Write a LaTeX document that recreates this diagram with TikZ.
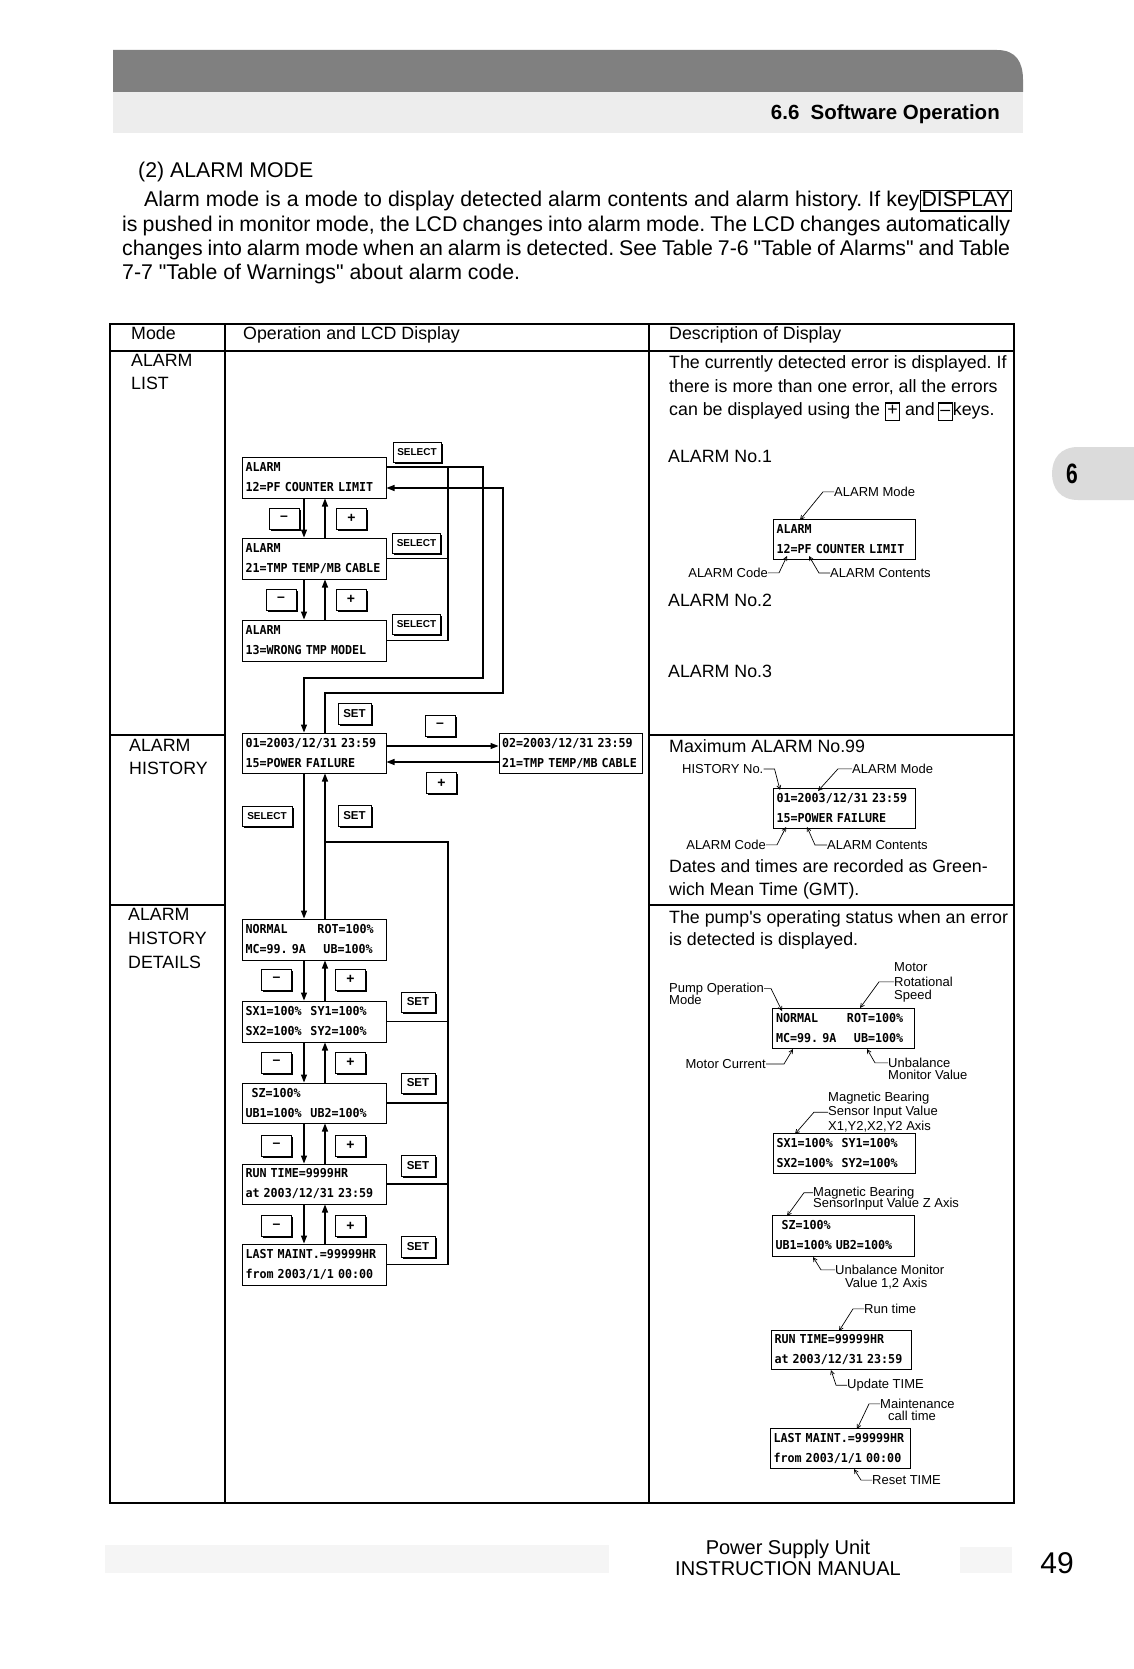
\documentclass[tikz,border=0pt]{standalone}
\usepackage{fontspec}
\setmainfont[Ligatures=TeXOff]{Liberation Sans}
\newfontfamily\lcdfont[FakeStretch=0.95]{DejaVu Sans Mono}
\newfontfamily\narrowsans[FakeStretch=0.75]{Liberation Sans}
\usetikzlibrary{arrows.meta,shadows}
\frenchspacing
\newcommand\partxt{\fontsize{21.3}{24.5}\selectfont}
\newcommand\tabtxt{\fontsize{17.8}{23.5}\selectfont}
\newcommand\smtxt{\fontsize{13}{13}\selectfont}
\newcommand\lcdtxt{\lcdfont\bfseries\fontsize{12.3}{20}\selectfont}
\newcommand\kbox[1]{{\setlength{\fboxsep}{1pt}\setlength{\fboxrule}{1.1pt}\fbox{\rule[-3pt]{0pt}{14pt}\makebox[11pt]{#1}}}}
\newcommand\dispbox[1]{{\setlength{\fboxsep}{1pt}\setlength{\fboxrule}{1.1pt}\fbox{\rule[-2.5pt]{0pt}{16pt}#1}}}
\begin{document}
\begin{tikzpicture}[x=1pt,y=-1pt,
  tbl/.style={line width=2.2pt},
  lcd/.style={draw,line width=1pt,fill=white,minimum width=144pt,minimum height=41pt,inner sep=0pt,text width=137pt,align=left,font=\lcdtxt},
  rlcd/.style={lcd,minimum width=142pt,minimum height=40pt,text width=135pt},
  key/.style={draw,line width=1pt,fill=white,inner sep=0pt,general shadow={fill=black,shadow xshift=1.5pt,shadow yshift=-1.5pt}},
  selk/.style={key,minimum width=48pt,minimum height=20pt,font=\bfseries\fontsize{10}{10}\selectfont},
  setk/.style={key,minimum width=33pt,minimum height=21pt,font=\bfseries\fontsize{11.5}{11.5}\selectfont},
  pmk/.style={key,minimum width=30pt,minimum height=21pt,font=\bfseries\fontsize{14}{14}\selectfont},
  conn/.style={line width=1.2pt},
  arr/.style={conn,-{Triangle[length=8pt,width=6pt]}},
  lead/.style={line width=0.7pt,-{Straight Barb[length=4pt,width=4pt]}},
  txt/.style={inner sep=0pt,anchor=base west,font=\tabtxt},
  ptx/.style={inner sep=0pt,anchor=base west,font=\partxt},
  sm/.style={inner sep=0pt,anchor=base west,font=\smtxt},
  sme/.style={sm,anchor=base east},
]
\useasboundingbox (0,0) rectangle (1134,1669);

% ---------- page header ----------
\fill[black!50] (113,92) -- (113,50) -- (997,50) .. controls (1016,50) and (1023,62) .. (1023,80) -- (1023,92) -- cycle;
\fill[black!7] (113,92) rectangle (1023,133);
\node[inner sep=0pt,anchor=base east,font=\bfseries\fontsize{20.5}{20.5}\selectfont] (sec) at (1000,120) {6.6\hspace{0.55em}Software Operation};

% side tab
\fill[black!14] (1134,447) -- (1078,447) .. controls (1060,447) and (1052,459) .. (1052,473.5) .. controls (1052,488) and (1060,500) .. (1078,500) -- (1134,500) -- cycle;
\node[inner sep=0pt,font=\narrowsans\bfseries\fontsize{28}{28}\selectfont] (tab6) at (1072,474) {6};

% ---------- paragraph ----------
\node[ptx] (p0) at (138,177.5) {(2) ALARM MODE};
\node[ptx] (p1) at (144,207) {\makebox[868pt][s]{Alarm mode is a mode to display detected alarm contents and alarm history. If key\dispbox{DISPLAY}}};
\node[ptx] (p2) at (122,232) {\makebox[888pt][s]{is pushed in monitor mode, the LCD changes into alarm mode. The LCD changes automatically}};
\node[ptx] (p3) at (122,256) {\makebox[888pt][s]{changes into alarm mode when an alarm is detected. See Table 7-6 "Table of Alarms" and Table}};
\node[ptx] (p4) at (122,280) {7-7 "Table of Warnings" about alarm code.};

% ---------- table frame ----------
\draw[tbl] (110,324) rectangle (1014,1503);
\draw[tbl] (110,351) -- (1014,351);
\draw[tbl] (225,324) -- (225,1503);
\draw[tbl] (649,324) -- (649,1503);
\draw[tbl] (110,735) -- (225,735);
\draw[tbl] (649,735) -- (1014,735);
\draw[tbl] (110,905) -- (225,905);
\draw[tbl] (649,905) -- (1014,905);

% headers and mode names
\node[txt] (hm) at (131,339.5) {Mode};
\node[txt] (ho) at (243,339.5) {Operation and LCD Display};
\node[txt] (hd) at (669,339.5) {Description of Display};
\node[txt] (m1a) at (131,366.5) {ALARM};
\node[txt] (m1b) at (131,389.5) {LIST};
\node[txt] (m2a) at (129,751.5) {ALARM};
\node[txt] (m2b) at (129,774.5) {HISTORY};
\node[txt] (m3a) at (128,920.5) {ALARM};
\node[txt] (m3b) at (128,944.5) {HISTORY};
\node[txt] (m3c) at (128,968.5) {DETAILS};

% descriptions
\node[txt] (ds1) at (669,368.5) {The currently detected error is displayed. If};
\node[txt] (ds2) at (669,392) {there is more than one error, all the errors};
\node[txt] (ds3) at (669,415.5) {can be displayed using the \kbox{+} and\,\kbox{\textendash}keys.};
\node[txt] (ds4) at (668,462.5) {ALARM No.1};
\node[txt] (ds5) at (668,606.5) {ALARM No.2};
\node[txt] (ds6) at (668,677.5) {ALARM No.3};
\node[txt] (ds7) at (669,752.5) {Maximum ALARM No.99};
\node[txt] (ds8) at (669,872.5) {Dates and times are recorded as Green-};
\node[txt] (ds9) at (669,895.5) {wich Mean Time (GMT).};
\node[txt] (ds10) at (669,923.5) {The pump's operating status when an error};
\node[txt] (ds11) at (669,945.5) {is detected is displayed.};

% ---------- operation column: LCD displays ----------
\coordinate (xd) at (304,0);
\coordinate (xu) at (325,0);
\node[lcd] (l1) at (314,477.5) {ALARM\\12=PF COUNTER LIMIT};
\node[lcd] (l2) at (314,558.5) {ALARM\\21=TMP TEMP/MB CABLE};
\node[lcd] (l3) at (314,640.5) {ALARM\\13=WRONG TMP MODEL};
\node[lcd,minimum height=40pt] (h1) at (314,753) {01=2003/12/31 23:59\\15=POWER FAILURE};
\node[lcd,minimum width=143pt,minimum height=40pt] (h2) at (570.5,753) {02=2003/12/31 23:59\\21=TMP TEMP/MB CABLE};
\node[lcd] (d1) at (314,939.5) {\makebox[72pt][l]{NORMAL}ROT=100\%\\\makebox[78pt][l]{MC=99. 9A}UB=100\%};
\node[lcd] (d2) at (314,1021.5) {\makebox[65pt][l]{SX1=100\%}SY1=100\%\\\makebox[65pt][l]{SX2=100\%}SY2=100\%};
\node[lcd,minimum height=40pt] (d3) at (314,1103) {\hspace*{6pt}SZ=100\%\\\makebox[65pt][l]{UB1=100\%}UB2=100\%};
\node[lcd,minimum height=40pt] (d4) at (314,1184) {RUN TIME=9999HR\\at 2003/12/31 23:59};
\node[lcd] (d5) at (314,1264.5) {LAST MAINT.=99999HR\\from 2003/1/1 00:00};

% up / down arrows
\foreach \a/\b in {l1/l2,l2/l3,h1/d1,d1/d2,d2/d3,d3/d4,d4/d5} {
  \draw[arr] (\a.south -| xd) -- (\b.north -| xd);
  \draw[arr] (\b.north -| xu) -- (\a.south -| xu);
}

% - / + keys
\node[pmk] (km1) at (284,518.5) {\textendash};
\node[pmk] (kp1) at (351.5,518.5) {+};
\node[pmk] (km2) at (281,599.5) {\textendash};
\node[pmk] (kp2) at (351,599.5) {+};
\node[pmk] (km3) at (440,725.5) {\textendash};
\node[pmk] (kp3) at (441.5,783) {+};
\node[pmk] (km4) at (276.5,979.5) {\textendash};
\node[pmk] (kp4) at (350.5,979.5) {+};
\node[pmk] (km5) at (276.5,1062.5) {\textendash};
\node[pmk] (kp5) at (350.5,1062.5) {+};
\node[pmk] (km6) at (276.5,1145.5) {\textendash};
\node[pmk] (kp6) at (350.5,1145.5) {+};
\node[pmk] (km7) at (276.5,1226) {\textendash};
\node[pmk] (kp7) at (350.5,1226) {+};

% SELECT / SET keys
\node[selk] (s1) at (417,452) {SELECT};
\node[selk] (s2) at (416.5,543) {SELECT};
\node[selk] (s3) at (416.5,624.5) {SELECT};
\node[selk,minimum width=50pt] (s4) at (267,816) {SELECT};
\node[setk] (t1) at (354.5,713.5) {SET};
\node[setk] (t2) at (354.5,816) {SET};
\node[setk,minimum width=34pt,minimum height=20pt] (t3) at (418,1002) {SET};
\node[setk,minimum width=34pt,minimum height=20pt] (t4) at (418,1083) {SET};
\node[setk,minimum width=34pt] (t5) at (418,1166) {SET};
\node[setk,minimum width=34pt] (t6) at (418,1246.5) {SET};

% SELECT paths (alarm list -> history)
\coordinate (sv1) at (448,467);
\coordinate (c1) at (483,467);
\coordinate (c2) at (483,678);
\draw[conn] (l2.east) -- (l2.east -| sv1);
\draw[conn] (l3.east) -- (l3.east -| sv1) -- (sv1);
\draw[arr] (l1.east |- sv1) -- (c1) -- (c2) -| (h1.north -| xd);

% SET path (history -> alarm list)
\coordinate (e1) at (503,488);
\coordinate (e2) at (503,693);
\draw[arr] (h1.north -| xu) |- (e2) -- (e1) -- (l1.east |- e1);

% history 01 <-> 02
\coordinate (hy1) at (450,746);
\coordinate (hy2) at (450,762);
\draw[arr] (h1.east |- hy1) -- (h2.west |- hy1);
\draw[arr] (h2.west |- hy2) -- (h1.east |- hy2);

% SET return from details
\coordinate (g1) at (325,842);
\coordinate (g2) at (448,842);
\draw[conn] (g1) -- (g2) -- (g2 |- d5.east) -- (d5.east);
\foreach \n in {d2,d3,d4} \draw[conn] (\n.east) -- (\n.east -| g2);

% ---------- description column: annotated displays ----------
\node[rlcd] (r1) at (844,539) {ALARM\\12=PF COUNTER LIMIT};
\node[rlcd] (r2) at (844,808) {01=2003/12/31 23:59\\15=POWER FAILURE};
\node[rlcd] (r3) at (843.5,1028) {\makebox[71pt][l]{NORMAL}ROT=100\%\\\makebox[78pt][l]{MC=99. 9A}UB=100\%};
\node[rlcd] (r4) at (844,1153) {\makebox[65pt][l]{SX1=100\%}SY1=100\%\\\makebox[65pt][l]{SX2=100\%}SY2=100\%};
\node[rlcd,minimum height=41pt] (r5) at (843,1235.5) {\hspace*{6pt}SZ=100\%\\UB1=100\% UB2=100\%};
\node[rlcd,minimum width=140pt,text width=133pt,minimum height=39pt] (r6) at (841,1349.5) {RUN TIME=99999HR\\at 2003/12/31 23:59};
\node[rlcd,minimum width=140pt,text width=133pt] (r7) at (840,1448) {LAST MAINT.=99999HR\\from 2003/1/1 00:00};

% alarm No.1 labels
\node[sm] (a1) at (834,496.5) {ALARM Mode};
\draw[lead] (a1.west) -- ++(-11,0) -- (800,520);
\node[sme] (a2) at (768,577.5) {ALARM Code};
\draw[lead] (a2.east) -- ++(11,0) -- (787,556);
\node[sm] (a3) at (830,577.5) {ALARM Contents};
\draw[lead] (a3.west) -- ++(-11,0) -- (809,556);

% history labels
\node[sm] (b1) at (682,773.5) {HISTORY No.};
\draw[lead] (b1.east) -- ++(11,0) -- (780,790);
\node[sm] (b2) at (852,773.5) {ALARM Mode};
\draw[lead] (b2.west) -- ++(-14,0) -- (818,791);
\node[sme] (b3) at (766,849.5) {ALARM Code};
\draw[lead] (b3.east) -- ++(11,0) -- (786,827);
\node[sm] (b4) at (827,849.5) {ALARM Contents};
\draw[lead] (b4.west) -- ++(-12,0) -- (807,827);

% pump status labels
\node[sm] (c1t) at (669,992) {Pump Operation};
\node[sm] (c1m) at (669,1004) {Mode};
\draw[lead] (c1t.east) -- ++(7,0) -- (782,1011);
\node[sm] (c2a) at (894,971.5) {Motor};
\node[sm] (c2b) at (894,986.5) {Rotational};
\node[sm] (c2c) at (894,999) {Speed};
\draw[lead] (c2b.west) -- ++(-15,0) -- (860,1008);
\node[sme] (c3) at (766,1068.5) {Motor Current};
\draw[lead] (c3.east) -- ++(18,0) -- (793,1049);
\node[sm] (c4a) at (888,1067.5) {Unbalance};
\node[sm] (c4b) at (888,1079.5) {Monitor Value};
\draw[lead] (c4a.west) -- ++(-13,0) -- (867,1049);
\node[sm] (c5a) at (828,1101.5) {Magnetic Bearing};
\node[sm] (c5b) at (828,1115.5) {Sensor Input Value};
\node[sm] (c5c) at (828,1130) {X1,Y2,X2,Y2 Axis};
\draw[lead] (c5b.west) -- ++(-14,0) -- (795,1134);
\node[sm] (c6a) at (813,1196) {Magnetic Bearing};
\node[sm] (c6b) at (813,1207.5) {SensorInput Value Z Axis};
\draw[lead] (c6a.west) -- ++(-9,0) -- (787,1216);
\node[sm] (c7a) at (835,1274.5) {Unbalance Monitor};
\node[sm] (c7b) at (845,1287.5) {Value 1,2 Axis};
\draw[lead] (c7a.west) -- ++(-14,0) -- (813,1257);
\node[sm] (c8) at (864,1313.5) {Run time};
\draw[lead] (c8.west) -- ++(-11,0) -- (839,1331);
\node[sm] (c9) at (847,1388.5) {Update TIME};
\draw[lead] (c9.west) -- ++(-11,0) -- (831,1370);
\node[sm] (c10a) at (880,1408.5) {Maintenance};
\node[sm] (c10b) at (888,1420.5) {call time};
\draw[lead] (c10a.west) -- ++(-11,0) -- (857,1429);
\node[sm] (c11) at (872,1484.5) {Reset TIME};
\draw[lead] (c11.west) -- ++(-11,0) -- (854,1469);

% ---------- footer ----------
\fill[black!4] (105,1545) rectangle (609,1573);
\fill[black!4] (960,1547) rectangle (1012,1573);
\node[inner sep=0pt,anchor=base,font=\fontsize{20}{20}\selectfont] (ft1) at (788,1554) {Power Supply Unit};
\node[inner sep=0pt,anchor=base,font=\fontsize{20}{20}\selectfont] (ft2) at (788,1575) {INSTRUCTION MANUAL};
\node[inner sep=0pt,anchor=base,font=\fontsize{30}{30}\selectfont] (pg) at (1057,1573) {49};
\end{tikzpicture}
\end{document}
